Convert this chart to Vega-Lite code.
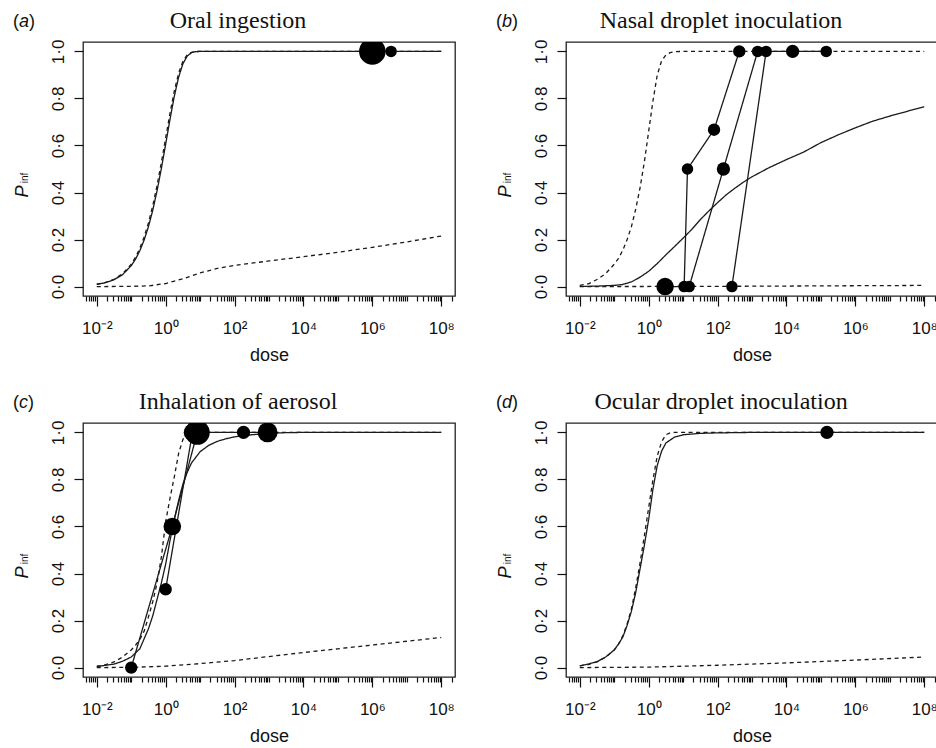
{
  "$schema": "https://vega.github.io/schema/vega-lite/v6.json",
  "background": "white",
  "padding": {"left": 12, "top": 8, "right": 0, "bottom": 0},
  "config": {
    "view": {"stroke": "#222", "strokeWidth": 1.3},
    "axis": {"grid": false, "domain": false, "ticks": true, "zindex": 1, "tickOpacity": 1, "tickColor": "#111", "tickWidth": 1.2, "labelColor": "#111", "titleColor": "#111", "labelFont": "Liberation Sans", "titleFont": "Liberation Sans", "labelFontSize": 17, "titleFontSize": 18, "titleFontWeight": "normal"},
    "title": {"font": "Liberation Serif", "fontSize": 24, "fontWeight": "normal", "color": "#111", "anchor": "middle", "frame": "group", "dx": -31, "offset": -20.5, "baseline": "alphabetic"}
  },
  "datasets": {
    "curves": [
      {"panel":"a","series":"fit","dose":0.01,"p":0.0093},{"panel":"a","series":"fit","dose":0.01778,"p":0.0164},{"panel":"a","series":"fit","dose":0.03162,"p":0.029},{"panel":"a","series":"fit","dose":0.05623,"p":0.0509},{"panel":"a","series":"fit","dose":0.1,"p":0.0888},{"panel":"a","series":"fit","dose":0.1334,"p":0.1167},{"panel":"a","series":"fit","dose":0.1778,"p":0.1524},{"panel":"a","series":"fit","dose":0.2371,"p":0.1979},{"panel":"a","series":"fit","dose":0.3162,"p":0.2547},{"panel":"a","series":"fit","dose":0.4217,"p":0.3243},{"panel":"a","series":"fit","dose":0.5623,"p":0.4072},{"panel":"a","series":"fit","dose":0.7499,"p":0.5022},{"panel":"a","series":"fit","dose":1,"p":0.6054},{"panel":"a","series":"fit","dose":1.334,"p":0.7107},{"panel":"a","series":"fit","dose":1.778,"p":0.8087},{"panel":"a","series":"fit","dose":2.371,"p":0.8898},{"panel":"a","series":"fit","dose":3.162,"p":0.9471},{"panel":"a","series":"fit","dose":4.217,"p":0.9802},{"panel":"a","series":"fit","dose":5.623,"p":0.9946},{"panel":"a","series":"fit","dose":7.499,"p":0.9991},{"panel":"a","series":"fit","dose":10,"p":0.9999},{"panel":"a","series":"fit","dose":31.62,"p":1},{"panel":"a","series":"fit","dose":100000000,"p":1},
      {"panel":"a","series":"upper","dose":0.01,"p":0.00995},{"panel":"a","series":"upper","dose":0.01778,"p":0.0176},{"panel":"a","series":"upper","dose":0.03162,"p":0.0311},{"panel":"a","series":"upper","dose":0.05623,"p":0.0547},{"panel":"a","series":"upper","dose":0.1,"p":0.0952},{"panel":"a","series":"upper","dose":0.1334,"p":0.1249},{"panel":"a","series":"upper","dose":0.1778,"p":0.1629},{"panel":"a","series":"upper","dose":0.2371,"p":0.2111},{"panel":"a","series":"upper","dose":0.3162,"p":0.2711},{"panel":"a","series":"upper","dose":0.4217,"p":0.344},{"panel":"a","series":"upper","dose":0.5623,"p":0.4301},{"panel":"a","series":"upper","dose":0.7499,"p":0.5276},{"panel":"a","series":"upper","dose":1,"p":0.6321},{"panel":"a","series":"upper","dose":1.334,"p":0.7366},{"panel":"a","series":"upper","dose":1.778,"p":0.8311},{"panel":"a","series":"upper","dose":2.371,"p":0.9066},{"panel":"a","series":"upper","dose":3.162,"p":0.9577},{"panel":"a","series":"upper","dose":4.217,"p":0.9853},{"panel":"a","series":"upper","dose":5.623,"p":0.9964},{"panel":"a","series":"upper","dose":7.499,"p":0.9994},{"panel":"a","series":"upper","dose":10,"p":1},{"panel":"a","series":"upper","dose":100000000,"p":1},
      {"panel":"a","series":"lower","dose":0.01,"p":0},{"panel":"a","series":"lower","dose":0.1,"p":0.001},{"panel":"a","series":"lower","dose":0.3162,"p":0.003},{"panel":"a","series":"lower","dose":1,"p":0.013},{"panel":"a","series":"lower","dose":3.162,"p":0.033},{"panel":"a","series":"lower","dose":10,"p":0.058},{"panel":"a","series":"lower","dose":31.62,"p":0.077},{"panel":"a","series":"lower","dose":100,"p":0.09},{"panel":"a","series":"lower","dose":1000,"p":0.109},{"panel":"a","series":"lower","dose":10000,"p":0.127},{"panel":"a","series":"lower","dose":100000,"p":0.146},{"panel":"a","series":"lower","dose":1000000,"p":0.167},{"panel":"a","series":"lower","dose":10000000,"p":0.19},{"panel":"a","series":"lower","dose":100000000,"p":0.215},

      {"panel":"b","series":"upper","dose":0.01,"p":0.005},{"panel":"b","series":"upper","dose":0.01778,"p":0.012},{"panel":"b","series":"upper","dose":0.03162,"p":0.03},{"panel":"b","series":"upper","dose":0.05623,"p":0.055},{"panel":"b","series":"upper","dose":0.1,"p":0.095},{"panel":"b","series":"upper","dose":0.1334,"p":0.12},{"panel":"b","series":"upper","dose":0.1778,"p":0.155},{"panel":"b","series":"upper","dose":0.2371,"p":0.2},{"panel":"b","series":"upper","dose":0.3162,"p":0.255},{"panel":"b","series":"upper","dose":0.4217,"p":0.33},{"panel":"b","series":"upper","dose":0.5623,"p":0.42},{"panel":"b","series":"upper","dose":0.7499,"p":0.53},{"panel":"b","series":"upper","dose":1,"p":0.66},{"panel":"b","series":"upper","dose":1.334,"p":0.79},{"panel":"b","series":"upper","dose":1.778,"p":0.9},{"panel":"b","series":"upper","dose":2.371,"p":0.96},{"panel":"b","series":"upper","dose":3.162,"p":0.985},{"panel":"b","series":"upper","dose":4.217,"p":0.995},{"panel":"b","series":"upper","dose":5.623,"p":0.999},{"panel":"b","series":"upper","dose":10,"p":1},{"panel":"b","series":"upper","dose":100000000,"p":1},
      {"panel":"b","series":"fit","dose":0.01,"p":0.0005},{"panel":"b","series":"fit","dose":0.03162,"p":0.002},{"panel":"b","series":"fit","dose":0.1,"p":0.005},{"panel":"b","series":"fit","dose":0.1778,"p":0.009},{"panel":"b","series":"fit","dose":0.3162,"p":0.02},{"panel":"b","series":"fit","dose":0.5623,"p":0.04},{"panel":"b","series":"fit","dose":1,"p":0.065},{"panel":"b","series":"fit","dose":1.778,"p":0.098},{"panel":"b","series":"fit","dose":3.162,"p":0.135},{"panel":"b","series":"fit","dose":5.623,"p":0.17},{"panel":"b","series":"fit","dose":10,"p":0.206},{"panel":"b","series":"fit","dose":17.78,"p":0.243},{"panel":"b","series":"fit","dose":31.62,"p":0.285},{"panel":"b","series":"fit","dose":56.23,"p":0.322},{"panel":"b","series":"fit","dose":100,"p":0.357},{"panel":"b","series":"fit","dose":177.8,"p":0.39},{"panel":"b","series":"fit","dose":316.2,"p":0.418},{"panel":"b","series":"fit","dose":562.3,"p":0.444},{"panel":"b","series":"fit","dose":1000,"p":0.467},{"panel":"b","series":"fit","dose":3162,"p":0.506},{"panel":"b","series":"fit","dose":10000,"p":0.54},{"panel":"b","series":"fit","dose":31623,"p":0.572},{"panel":"b","series":"fit","dose":100000,"p":0.612},{"panel":"b","series":"fit","dose":316228,"p":0.645},{"panel":"b","series":"fit","dose":1000000,"p":0.675},{"panel":"b","series":"fit","dose":3162278,"p":0.703},{"panel":"b","series":"fit","dose":10000000,"p":0.725},{"panel":"b","series":"fit","dose":31622777,"p":0.745},{"panel":"b","series":"fit","dose":100000000,"p":0.765},
      {"panel":"b","series":"lower","dose":0.01,"p":0},{"panel":"b","series":"lower","dose":100,"p":0.001},{"panel":"b","series":"lower","dose":100000,"p":0.003},{"panel":"b","series":"lower","dose":100000000,"p":0.005},
      {"panel":"b","series":"e1","dose":3,"p":0},{"panel":"b","series":"e1","dose":10.7,"p":0},{"panel":"b","series":"e1","dose":13.4,"p":0.5},{"panel":"b","series":"e1","dose":79,"p":0.667},{"panel":"b","series":"e1","dose":427,"p":1},
      {"panel":"b","series":"e2","dose":15,"p":0},{"panel":"b","series":"e2","dose":148,"p":0.5},{"panel":"b","series":"e2","dose":1460,"p":1},
      {"panel":"b","series":"e3","dose":261,"p":0},{"panel":"b","series":"e3","dose":2570,"p":1},{"panel":"b","series":"e3","dose":15100,"p":1},{"panel":"b","series":"e3","dose":143000,"p":1},

      {"panel":"c","series":"upper","dose":0.01,"p":0.006},{"panel":"c","series":"upper","dose":0.01778,"p":0.012},{"panel":"c","series":"upper","dose":0.03162,"p":0.024},{"panel":"c","series":"upper","dose":0.05623,"p":0.045},{"panel":"c","series":"upper","dose":0.1,"p":0.075},{"panel":"c","series":"upper","dose":0.1334,"p":0.095},{"panel":"c","series":"upper","dose":0.1778,"p":0.12},{"panel":"c","series":"upper","dose":0.2371,"p":0.155},{"panel":"c","series":"upper","dose":0.3162,"p":0.215},{"panel":"c","series":"upper","dose":0.4217,"p":0.28},{"panel":"c","series":"upper","dose":0.5623,"p":0.36},{"panel":"c","series":"upper","dose":0.7499,"p":0.47},{"panel":"c","series":"upper","dose":1,"p":0.62},{"panel":"c","series":"upper","dose":1.334,"p":0.72},{"panel":"c","series":"upper","dose":1.778,"p":0.81},{"panel":"c","series":"upper","dose":2.371,"p":0.91},{"panel":"c","series":"upper","dose":3.162,"p":0.97},{"panel":"c","series":"upper","dose":4.217,"p":0.995},{"panel":"c","series":"upper","dose":5.623,"p":1},{"panel":"c","series":"upper","dose":100000000,"p":1},
      {"panel":"c","series":"fit","dose":0.01,"p":0.004},{"panel":"c","series":"fit","dose":0.03162,"p":0.015},{"panel":"c","series":"fit","dose":0.05623,"p":0.027},{"panel":"c","series":"fit","dose":0.1,"p":0.045},{"panel":"c","series":"fit","dose":0.1778,"p":0.08},{"panel":"c","series":"fit","dose":0.3162,"p":0.165},{"panel":"c","series":"fit","dose":0.4217,"p":0.22},{"panel":"c","series":"fit","dose":0.5623,"p":0.29},{"panel":"c","series":"fit","dose":0.7499,"p":0.36},{"panel":"c","series":"fit","dose":1,"p":0.44},{"panel":"c","series":"fit","dose":1.334,"p":0.54},{"panel":"c","series":"fit","dose":1.778,"p":0.63},{"panel":"c","series":"fit","dose":2.371,"p":0.71},{"panel":"c","series":"fit","dose":3.162,"p":0.78},{"panel":"c","series":"fit","dose":4.217,"p":0.83},{"panel":"c","series":"fit","dose":5.623,"p":0.87},{"panel":"c","series":"fit","dose":10,"p":0.918},{"panel":"c","series":"fit","dose":17.78,"p":0.945},{"panel":"c","series":"fit","dose":31.62,"p":0.962},{"panel":"c","series":"fit","dose":56.23,"p":0.973},{"panel":"c","series":"fit","dose":100,"p":0.981},{"panel":"c","series":"fit","dose":316.2,"p":0.99},{"panel":"c","series":"fit","dose":1000,"p":0.996},{"panel":"c","series":"fit","dose":3162,"p":0.999},{"panel":"c","series":"fit","dose":10000,"p":1},{"panel":"c","series":"fit","dose":100000000,"p":1},
      {"panel":"c","series":"lower","dose":0.01,"p":0},{"panel":"c","series":"lower","dose":0.1,"p":0.001},{"panel":"c","series":"lower","dose":1,"p":0.006},{"panel":"c","series":"lower","dose":10,"p":0.017},{"panel":"c","series":"lower","dose":100,"p":0.03},{"panel":"c","series":"lower","dose":1000,"p":0.047},{"panel":"c","series":"lower","dose":10000,"p":0.064},{"panel":"c","series":"lower","dose":100000,"p":0.08},{"panel":"c","series":"lower","dose":1000000,"p":0.096},{"panel":"c","series":"lower","dose":10000000,"p":0.112},{"panel":"c","series":"lower","dose":100000000,"p":0.128},
      {"panel":"c","series":"e1","dose":0.1,"p":0},{"panel":"c","series":"e1","dose":1.56,"p":0.6},{"panel":"c","series":"e1","dose":8.3,"p":1},{"panel":"c","series":"e1","dose":182,"p":1},{"panel":"c","series":"e1","dose":910,"p":1},
      {"panel":"c","series":"e2","dose":1,"p":0.333},{"panel":"c","series":"e2","dose":6,"p":1},

      {"panel":"d","series":"fit","dose":0.01,"p":0.008},{"panel":"d","series":"fit","dose":0.01778,"p":0.015},{"panel":"d","series":"fit","dose":0.03162,"p":0.025},{"panel":"d","series":"fit","dose":0.05623,"p":0.045},{"panel":"d","series":"fit","dose":0.1,"p":0.075},{"panel":"d","series":"fit","dose":0.1334,"p":0.1},{"panel":"d","series":"fit","dose":0.1778,"p":0.13},{"panel":"d","series":"fit","dose":0.2371,"p":0.18},{"panel":"d","series":"fit","dose":0.3162,"p":0.24},{"panel":"d","series":"fit","dose":0.4217,"p":0.32},{"panel":"d","series":"fit","dose":0.5623,"p":0.42},{"panel":"d","series":"fit","dose":0.7499,"p":0.52},{"panel":"d","series":"fit","dose":1,"p":0.63},{"panel":"d","series":"fit","dose":1.334,"p":0.76},{"panel":"d","series":"fit","dose":1.778,"p":0.86},{"panel":"d","series":"fit","dose":2.371,"p":0.92},{"panel":"d","series":"fit","dose":3.162,"p":0.955},{"panel":"d","series":"fit","dose":5.623,"p":0.98},{"panel":"d","series":"fit","dose":10,"p":0.99},{"panel":"d","series":"fit","dose":31.62,"p":0.996},{"panel":"d","series":"fit","dose":100,"p":0.998},{"panel":"d","series":"fit","dose":1000,"p":1},{"panel":"d","series":"fit","dose":100000000,"p":1},
      {"panel":"d","series":"upper","dose":0.01,"p":0.007},{"panel":"d","series":"upper","dose":0.01778,"p":0.013},{"panel":"d","series":"upper","dose":0.03162,"p":0.024},{"panel":"d","series":"upper","dose":0.05623,"p":0.044},{"panel":"d","series":"upper","dose":0.1,"p":0.075},{"panel":"d","series":"upper","dose":0.1334,"p":0.1},{"panel":"d","series":"upper","dose":0.1778,"p":0.135},{"panel":"d","series":"upper","dose":0.2371,"p":0.185},{"panel":"d","series":"upper","dose":0.3162,"p":0.25},{"panel":"d","series":"upper","dose":0.4217,"p":0.34},{"panel":"d","series":"upper","dose":0.5623,"p":0.445},{"panel":"d","series":"upper","dose":0.7499,"p":0.56},{"panel":"d","series":"upper","dose":1,"p":0.68},{"panel":"d","series":"upper","dose":1.334,"p":0.8},{"panel":"d","series":"upper","dose":1.778,"p":0.9},{"panel":"d","series":"upper","dose":2.371,"p":0.96},{"panel":"d","series":"upper","dose":3.162,"p":0.99},{"panel":"d","series":"upper","dose":4.217,"p":0.998},{"panel":"d","series":"upper","dose":5.623,"p":1},{"panel":"d","series":"upper","dose":100000000,"p":1},
      {"panel":"d","series":"lower","dose":0.01,"p":0},{"panel":"d","series":"lower","dose":1,"p":0.002},{"panel":"d","series":"lower","dose":100,"p":0.01},{"panel":"d","series":"lower","dose":10000,"p":0.02},{"panel":"d","series":"lower","dose":1000000,"p":0.032},{"panel":"d","series":"lower","dose":100000000,"p":0.045}
    ],
    "points": [
      {"panel":"a","dose":1000000,"p":1,"n":16},{"panel":"a","dose":3500000,"p":1,"n":3},
      {"panel":"b","dose":3,"p":0,"n":7},{"panel":"b","dose":10.7,"p":0,"n":3},{"panel":"b","dose":15,"p":0,"n":3},{"panel":"b","dose":261,"p":0,"n":3},{"panel":"b","dose":13.4,"p":0.5,"n":3},{"panel":"b","dose":148,"p":0.5,"n":4},{"panel":"b","dose":79,"p":0.667,"n":3.5},{"panel":"b","dose":427,"p":1,"n":3.5},{"panel":"b","dose":1460,"p":1,"n":3},{"panel":"b","dose":2570,"p":1,"n":3},{"panel":"b","dose":15100,"p":1,"n":4},{"panel":"b","dose":143000,"p":1,"n":3},
      {"panel":"c","dose":0.1,"p":0,"n":3.5},{"panel":"c","dose":1,"p":0.333,"n":3.5},{"panel":"c","dose":1.56,"p":0.6,"n":7},{"panel":"c","dose":6,"p":1,"n":7},{"panel":"c","dose":8.3,"p":1,"n":14},{"panel":"c","dose":182,"p":1,"n":4},{"panel":"c","dose":910,"p":1,"n":9},
      {"panel":"d","dose":150000,"p":1,"n":4}
    ]
  },
  "columns": 2,
  "bounds": "flush",
  "spacing": {"row": 127, "column": 111},
  "concat": [
    {
      "width": 372, "height": 254,
      "title": {"text": "Oral ingestion"},
      "layer": [
        {"data": {"name": "curves"}, "transform": [{"filter": "datum.panel === 'a'"}],
         "mark": {"type": "line", "strokeWidth": 1.3, "color": "#1a1a1a"},
         "encoding": {
           "x": {"field": "dose", "type": "quantitative", "scale": {"type": "log", "domain": [0.0039811, 251188643], "nice": false}, "axis": {"orient": "bottom", "ticks": true, "zindex": 1, "tickCount": 300, "values": [0.005,0.006,0.007,0.008,0.009,0.01,0.02,0.03,0.04,0.05,0.06,0.07,0.08,0.09,0.1,0.2,0.3,0.4,0.5,0.6,0.7,0.8,0.9,1,2,3,4,5,6,7,8,9,10,20,30,40,50,60,70,80,90,100,200,300,400,500,600,700,800,900,1000,2000,3000,4000,5000,6000,7000,8000,9000,10000,20000,30000,40000,50000,60000,70000,80000,90000,100000,200000,300000,400000,500000,600000,700000,800000,900000,1000000,2000000,3000000,4000000,5000000,6000000,7000000,8000000,9000000,10000000,20000000,30000000,40000000,50000000,60000000,70000000,80000000,90000000,100000000,200000000], "labelExpr": "datum.value == 0.01 ? '10⁻²' : datum.value == 1 ? '10⁰' : datum.value == 100 ? '10²' : datum.value == 10000 ? '10⁴' : datum.value == 1000000 ? '10⁶' : datum.value == 100000000 ? '10⁸' : ''", "tickSize": 10, "tickDash": {"condition": {"test": "indexof([0.01, 1, 100, 10000, 1000000, 100000000], datum.value) >= 0", "value": [10, 0]}, "value": [5, 10]}, "labelPadding": 27, "labelBaseline": "alphabetic", "labelFlush": false, "labelOverlap": false, "title": "dose", "titleY": 64, "titleBaseline": "alphabetic"}},
           "y": {"field": "p", "type": "quantitative", "scale": {"domain": [-0.04, 1.04], "nice": false, "zero": false}, "axis": {"values": [0, 0.2, 0.4, 0.6, 0.8, 1], "ticks": true, "zindex": 1, "tickCount": 20, "labelExpr": "replace(format(datum.value, '.1f'), '.', '·')", "labelAngle": 270, "labelAlign": "center", "labelBaseline": "alphabetic", "labelFlush": false, "tickSize": 9, "labelPadding": 11, "title": "P", "titleFontStyle": "italic", "titleAngle": 270, "titleX": -56, "titleY": 149, "titleAlign": "center", "titleBaseline": "alphabetic"}},
           "detail": {"field": "series"},
           "strokeDash": {"field": "series", "type": "nominal", "scale": {"domain": ["fit", "upper", "lower", "e1", "e2", "e3"], "range": [[1, 0], [4, 3.5], [4, 3.5], [1, 0], [1, 0], [1, 0]]}, "legend": null}
         }},
        {"data": {"name": "points"}, "transform": [{"filter": "datum.panel === 'a'"}],
         "mark": {"type": "circle", "color": "black", "opacity": 1, "clip": true},
         "encoding": {
           "x": {"field": "dose", "type": "quantitative", "scale": {"type": "log", "domain": [0.0039811, 251188643], "nice": false}},
           "y": {"field": "p", "type": "quantitative", "scale": {"domain": [-0.04, 1.04], "nice": false, "zero": false}},
           "size": {"field": "n", "type": "quantitative", "scale": {"domain": [0, 16], "range": [0, 704]}, "legend": null}
         }},
        {"data": {"values": [{}]}, "mark": {"type": "text", "text": "(", "align": "left", "baseline": "alphabetic", "font": "Liberation Sans", "fontSize": 18, "color": "#111"},
         "encoding": {"x": {"datum": 0.000037, "type": "quantitative"}, "y": {"datum": 1.104, "type": "quantitative"}}},
        {"data": {"values": [{}]}, "mark": {"type": "text", "text": "a", "align": "left", "baseline": "alphabetic", "font": "Liberation Sans", "fontSize": 18, "fontStyle": "italic", "color": "#111", "dx": 6},
         "encoding": {"x": {"datum": 0.000037, "type": "quantitative"}, "y": {"datum": 1.104, "type": "quantitative"}}},
        {"data": {"values": [{}]}, "mark": {"type": "text", "text": ")", "align": "left", "baseline": "alphabetic", "font": "Liberation Sans", "fontSize": 18, "color": "#111", "dx": 16},
         "encoding": {"x": {"datum": 0.000037, "type": "quantitative"}, "y": {"datum": 1.104, "type": "quantitative"}}},
        {"data": {"values": [{}]}, "mark": {"type": "text", "text": "inf", "align": "center", "baseline": "alphabetic", "angle": 270, "font": "Liberation Sans", "fontSize": 10, "color": "#111"},
         "encoding": {"x": {"datum": 0.0001, "type": "quantitative"}, "y": {"datum": 0.462, "type": "quantitative"}}}
      ]
    },
    {
      "width": 372, "height": 254,
      "title": {"text": "Nasal droplet inoculation"},
      "layer": [
        {"data": {"name": "curves"}, "transform": [{"filter": "datum.panel === 'b'"}],
         "mark": {"type": "line", "strokeWidth": 1.3, "color": "#1a1a1a"},
         "encoding": {
           "x": {"field": "dose", "type": "quantitative", "scale": {"type": "log", "domain": [0.0039811, 251188643], "nice": false}, "axis": {"orient": "bottom", "ticks": true, "zindex": 1, "tickCount": 300, "values": [0.005,0.006,0.007,0.008,0.009,0.01,0.02,0.03,0.04,0.05,0.06,0.07,0.08,0.09,0.1,0.2,0.3,0.4,0.5,0.6,0.7,0.8,0.9,1,2,3,4,5,6,7,8,9,10,20,30,40,50,60,70,80,90,100,200,300,400,500,600,700,800,900,1000,2000,3000,4000,5000,6000,7000,8000,9000,10000,20000,30000,40000,50000,60000,70000,80000,90000,100000,200000,300000,400000,500000,600000,700000,800000,900000,1000000,2000000,3000000,4000000,5000000,6000000,7000000,8000000,9000000,10000000,20000000,30000000,40000000,50000000,60000000,70000000,80000000,90000000,100000000,200000000], "labelExpr": "datum.value == 0.01 ? '10⁻²' : datum.value == 1 ? '10⁰' : datum.value == 100 ? '10²' : datum.value == 10000 ? '10⁴' : datum.value == 1000000 ? '10⁶' : datum.value == 100000000 ? '10⁸' : ''", "tickSize": 10, "tickDash": {"condition": {"test": "indexof([0.01, 1, 100, 10000, 1000000, 100000000], datum.value) >= 0", "value": [10, 0]}, "value": [5, 10]}, "labelPadding": 27, "labelBaseline": "alphabetic", "labelFlush": false, "labelOverlap": false, "title": "dose", "titleY": 64, "titleBaseline": "alphabetic"}},
           "y": {"field": "p", "type": "quantitative", "scale": {"domain": [-0.04, 1.04], "nice": false, "zero": false}, "axis": {"values": [0, 0.2, 0.4, 0.6, 0.8, 1], "ticks": true, "zindex": 1, "tickCount": 20, "labelExpr": "replace(format(datum.value, '.1f'), '.', '·')", "labelAngle": 270, "labelAlign": "center", "labelBaseline": "alphabetic", "labelFlush": false, "tickSize": 9, "labelPadding": 11, "title": "P", "titleFontStyle": "italic", "titleAngle": 270, "titleX": -56, "titleY": 149, "titleAlign": "center", "titleBaseline": "alphabetic"}},
           "detail": {"field": "series"},
           "strokeDash": {"field": "series", "type": "nominal", "scale": {"domain": ["fit", "upper", "lower", "e1", "e2", "e3"], "range": [[1, 0], [4, 3.5], [4, 3.5], [1, 0], [1, 0], [1, 0]]}, "legend": null}
         }},
        {"data": {"name": "points"}, "transform": [{"filter": "datum.panel === 'b'"}],
         "mark": {"type": "circle", "color": "black", "opacity": 1, "clip": true},
         "encoding": {
           "x": {"field": "dose", "type": "quantitative", "scale": {"type": "log", "domain": [0.0039811, 251188643], "nice": false}},
           "y": {"field": "p", "type": "quantitative", "scale": {"domain": [-0.04, 1.04], "nice": false, "zero": false}},
           "size": {"field": "n", "type": "quantitative", "scale": {"domain": [0, 16], "range": [0, 704]}, "legend": null}
         }},
        {"data": {"values": [{}]}, "mark": {"type": "text", "text": "(", "align": "left", "baseline": "alphabetic", "font": "Liberation Sans", "fontSize": 18, "color": "#111"},
         "encoding": {"x": {"datum": 0.000037, "type": "quantitative"}, "y": {"datum": 1.104, "type": "quantitative"}}},
        {"data": {"values": [{}]}, "mark": {"type": "text", "text": "b", "align": "left", "baseline": "alphabetic", "font": "Liberation Sans", "fontSize": 18, "fontStyle": "italic", "color": "#111", "dx": 6},
         "encoding": {"x": {"datum": 0.000037, "type": "quantitative"}, "y": {"datum": 1.104, "type": "quantitative"}}},
        {"data": {"values": [{}]}, "mark": {"type": "text", "text": ")", "align": "left", "baseline": "alphabetic", "font": "Liberation Sans", "fontSize": 18, "color": "#111", "dx": 16},
         "encoding": {"x": {"datum": 0.000037, "type": "quantitative"}, "y": {"datum": 1.104, "type": "quantitative"}}},
        {"data": {"values": [{}]}, "mark": {"type": "text", "text": "inf", "align": "center", "baseline": "alphabetic", "angle": 270, "font": "Liberation Sans", "fontSize": 10, "color": "#111"},
         "encoding": {"x": {"datum": 0.0001, "type": "quantitative"}, "y": {"datum": 0.462, "type": "quantitative"}}}
      ]
    },
    {
      "width": 372, "height": 254,
      "title": {"text": "Inhalation of aerosol"},
      "layer": [
        {"data": {"name": "curves"}, "transform": [{"filter": "datum.panel === 'c'"}],
         "mark": {"type": "line", "strokeWidth": 1.3, "color": "#1a1a1a"},
         "encoding": {
           "x": {"field": "dose", "type": "quantitative", "scale": {"type": "log", "domain": [0.0039811, 251188643], "nice": false}, "axis": {"orient": "bottom", "ticks": true, "zindex": 1, "tickCount": 300, "values": [0.005,0.006,0.007,0.008,0.009,0.01,0.02,0.03,0.04,0.05,0.06,0.07,0.08,0.09,0.1,0.2,0.3,0.4,0.5,0.6,0.7,0.8,0.9,1,2,3,4,5,6,7,8,9,10,20,30,40,50,60,70,80,90,100,200,300,400,500,600,700,800,900,1000,2000,3000,4000,5000,6000,7000,8000,9000,10000,20000,30000,40000,50000,60000,70000,80000,90000,100000,200000,300000,400000,500000,600000,700000,800000,900000,1000000,2000000,3000000,4000000,5000000,6000000,7000000,8000000,9000000,10000000,20000000,30000000,40000000,50000000,60000000,70000000,80000000,90000000,100000000,200000000], "labelExpr": "datum.value == 0.01 ? '10⁻²' : datum.value == 1 ? '10⁰' : datum.value == 100 ? '10²' : datum.value == 10000 ? '10⁴' : datum.value == 1000000 ? '10⁶' : datum.value == 100000000 ? '10⁸' : ''", "tickSize": 10, "tickDash": {"condition": {"test": "indexof([0.01, 1, 100, 10000, 1000000, 100000000], datum.value) >= 0", "value": [10, 0]}, "value": [5, 10]}, "labelPadding": 27, "labelBaseline": "alphabetic", "labelFlush": false, "labelOverlap": false, "title": "dose", "titleY": 64, "titleBaseline": "alphabetic"}},
           "y": {"field": "p", "type": "quantitative", "scale": {"domain": [-0.04, 1.04], "nice": false, "zero": false}, "axis": {"values": [0, 0.2, 0.4, 0.6, 0.8, 1], "ticks": true, "zindex": 1, "tickCount": 20, "labelExpr": "replace(format(datum.value, '.1f'), '.', '·')", "labelAngle": 270, "labelAlign": "center", "labelBaseline": "alphabetic", "labelFlush": false, "tickSize": 9, "labelPadding": 11, "title": "P", "titleFontStyle": "italic", "titleAngle": 270, "titleX": -56, "titleY": 149, "titleAlign": "center", "titleBaseline": "alphabetic"}},
           "detail": {"field": "series"},
           "strokeDash": {"field": "series", "type": "nominal", "scale": {"domain": ["fit", "upper", "lower", "e1", "e2", "e3"], "range": [[1, 0], [4, 3.5], [4, 3.5], [1, 0], [1, 0], [1, 0]]}, "legend": null}
         }},
        {"data": {"name": "points"}, "transform": [{"filter": "datum.panel === 'c'"}],
         "mark": {"type": "circle", "color": "black", "opacity": 1, "clip": true},
         "encoding": {
           "x": {"field": "dose", "type": "quantitative", "scale": {"type": "log", "domain": [0.0039811, 251188643], "nice": false}},
           "y": {"field": "p", "type": "quantitative", "scale": {"domain": [-0.04, 1.04], "nice": false, "zero": false}},
           "size": {"field": "n", "type": "quantitative", "scale": {"domain": [0, 16], "range": [0, 704]}, "legend": null}
         }},
        {"data": {"values": [{}]}, "mark": {"type": "text", "text": "(", "align": "left", "baseline": "alphabetic", "font": "Liberation Sans", "fontSize": 18, "color": "#111"},
         "encoding": {"x": {"datum": 0.000037, "type": "quantitative"}, "y": {"datum": 1.104, "type": "quantitative"}}},
        {"data": {"values": [{}]}, "mark": {"type": "text", "text": "c", "align": "left", "baseline": "alphabetic", "font": "Liberation Sans", "fontSize": 18, "fontStyle": "italic", "color": "#111", "dx": 6},
         "encoding": {"x": {"datum": 0.000037, "type": "quantitative"}, "y": {"datum": 1.104, "type": "quantitative"}}},
        {"data": {"values": [{}]}, "mark": {"type": "text", "text": ")", "align": "left", "baseline": "alphabetic", "font": "Liberation Sans", "fontSize": 18, "color": "#111", "dx": 15},
         "encoding": {"x": {"datum": 0.000037, "type": "quantitative"}, "y": {"datum": 1.104, "type": "quantitative"}}},
        {"data": {"values": [{}]}, "mark": {"type": "text", "text": "inf", "align": "center", "baseline": "alphabetic", "angle": 270, "font": "Liberation Sans", "fontSize": 10, "color": "#111"},
         "encoding": {"x": {"datum": 0.0001, "type": "quantitative"}, "y": {"datum": 0.462, "type": "quantitative"}}}
      ]
    },
    {
      "width": 372, "height": 254,
      "title": {"text": "Ocular droplet inoculation"},
      "layer": [
        {"data": {"name": "curves"}, "transform": [{"filter": "datum.panel === 'd'"}],
         "mark": {"type": "line", "strokeWidth": 1.3, "color": "#1a1a1a"},
         "encoding": {
           "x": {"field": "dose", "type": "quantitative", "scale": {"type": "log", "domain": [0.0039811, 251188643], "nice": false}, "axis": {"orient": "bottom", "ticks": true, "zindex": 1, "tickCount": 300, "values": [0.005,0.006,0.007,0.008,0.009,0.01,0.02,0.03,0.04,0.05,0.06,0.07,0.08,0.09,0.1,0.2,0.3,0.4,0.5,0.6,0.7,0.8,0.9,1,2,3,4,5,6,7,8,9,10,20,30,40,50,60,70,80,90,100,200,300,400,500,600,700,800,900,1000,2000,3000,4000,5000,6000,7000,8000,9000,10000,20000,30000,40000,50000,60000,70000,80000,90000,100000,200000,300000,400000,500000,600000,700000,800000,900000,1000000,2000000,3000000,4000000,5000000,6000000,7000000,8000000,9000000,10000000,20000000,30000000,40000000,50000000,60000000,70000000,80000000,90000000,100000000,200000000], "labelExpr": "datum.value == 0.01 ? '10⁻²' : datum.value == 1 ? '10⁰' : datum.value == 100 ? '10²' : datum.value == 10000 ? '10⁴' : datum.value == 1000000 ? '10⁶' : datum.value == 100000000 ? '10⁸' : ''", "tickSize": 10, "tickDash": {"condition": {"test": "indexof([0.01, 1, 100, 10000, 1000000, 100000000], datum.value) >= 0", "value": [10, 0]}, "value": [5, 10]}, "labelPadding": 27, "labelBaseline": "alphabetic", "labelFlush": false, "labelOverlap": false, "title": "dose", "titleY": 64, "titleBaseline": "alphabetic"}},
           "y": {"field": "p", "type": "quantitative", "scale": {"domain": [-0.04, 1.04], "nice": false, "zero": false}, "axis": {"values": [0, 0.2, 0.4, 0.6, 0.8, 1], "ticks": true, "zindex": 1, "tickCount": 20, "labelExpr": "replace(format(datum.value, '.1f'), '.', '·')", "labelAngle": 270, "labelAlign": "center", "labelBaseline": "alphabetic", "labelFlush": false, "tickSize": 9, "labelPadding": 11, "title": "P", "titleFontStyle": "italic", "titleAngle": 270, "titleX": -56, "titleY": 149, "titleAlign": "center", "titleBaseline": "alphabetic"}},
           "detail": {"field": "series"},
           "strokeDash": {"field": "series", "type": "nominal", "scale": {"domain": ["fit", "upper", "lower", "e1", "e2", "e3"], "range": [[1, 0], [4, 3.5], [4, 3.5], [1, 0], [1, 0], [1, 0]]}, "legend": null}
         }},
        {"data": {"name": "points"}, "transform": [{"filter": "datum.panel === 'd'"}],
         "mark": {"type": "circle", "color": "black", "opacity": 1, "clip": true},
         "encoding": {
           "x": {"field": "dose", "type": "quantitative", "scale": {"type": "log", "domain": [0.0039811, 251188643], "nice": false}},
           "y": {"field": "p", "type": "quantitative", "scale": {"domain": [-0.04, 1.04], "nice": false, "zero": false}},
           "size": {"field": "n", "type": "quantitative", "scale": {"domain": [0, 16], "range": [0, 704]}, "legend": null}
         }},
        {"data": {"values": [{}]}, "mark": {"type": "text", "text": "(", "align": "left", "baseline": "alphabetic", "font": "Liberation Sans", "fontSize": 18, "color": "#111"},
         "encoding": {"x": {"datum": 0.000037, "type": "quantitative"}, "y": {"datum": 1.104, "type": "quantitative"}}},
        {"data": {"values": [{}]}, "mark": {"type": "text", "text": "d", "align": "left", "baseline": "alphabetic", "font": "Liberation Sans", "fontSize": 18, "fontStyle": "italic", "color": "#111", "dx": 6},
         "encoding": {"x": {"datum": 0.000037, "type": "quantitative"}, "y": {"datum": 1.104, "type": "quantitative"}}},
        {"data": {"values": [{}]}, "mark": {"type": "text", "text": ")", "align": "left", "baseline": "alphabetic", "font": "Liberation Sans", "fontSize": 18, "color": "#111", "dx": 16},
         "encoding": {"x": {"datum": 0.000037, "type": "quantitative"}, "y": {"datum": 1.104, "type": "quantitative"}}},
        {"data": {"values": [{}]}, "mark": {"type": "text", "text": "inf", "align": "center", "baseline": "alphabetic", "angle": 270, "font": "Liberation Sans", "fontSize": 10, "color": "#111"},
         "encoding": {"x": {"datum": 0.0001, "type": "quantitative"}, "y": {"datum": 0.462, "type": "quantitative"}}}
      ]
    }
  ]
}
